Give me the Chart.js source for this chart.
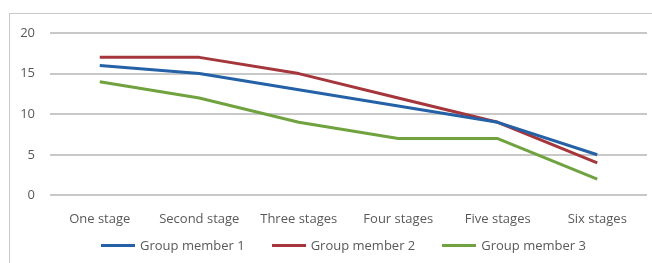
<!DOCTYPE html>
<html>
<head>
<meta charset="utf-8">
<script src="https://cdn.jsdelivr.net/npm/chart.js@4"></script>
<style>
  body { margin: 0; background: #fff; font-family: "Open Sans"; }
  #frame { position: absolute; left: 9px; top: 13px; width: 700px; height: 300px; border: 1px solid #c8c8c8; box-sizing: border-box; }
  #wrap { position: absolute; left: 0; top: 0; width: 652px; height: 263px; }
  #legend { position: absolute; left: 101px; top: 236px; display: flex; gap: 27px; font-size: 13px; color: #595959; line-height: 18px; }
  #legend .item { display: flex; align-items: center; gap: 5px; }
  #legend .swatch { width: 34px; height: 3px; }
</style>
</head>
<body>
<div id="frame"></div>
<div id="wrap"><canvas id="chart"></canvas></div>
<div id="legend"></div>
<script>
var stages = ["One stage", "Second stage", "Three stages", "Four stages", "Five stages", "Six stages"];
var member1 = [16, 15, 13, 11, 9, 5];
var member2 = [17, 17, 15, 12, 9, 4];
var member3 = [14, 12, 9, 7, 7, 2];
var yTicks = [0, 5, 10, 15, 20];

var textColor = "#595959";
var font = { family: "Open Sans", size: 13 };

// line setup shared by every series
function series(name, values, color) {
  return {
    label: name,
    data: values,
    borderColor: color,
    backgroundColor: color,
    borderWidth: 3,
    borderJoinStyle: "round",
    pointRadius: 0,
    tension: 0,
    fill: false
  };
}

var chart = new Chart(document.getElementById("chart"), {
  type: "line",
  data: {
    labels: stages,
    datasets: [
      series("Group member 1", member1, "#2461a6"),
      series("Group member 2", member2, "#a5363c"),
      series("Group member 3", member3, "#70a33f")
    ]
  },
  options: {
    responsive: true,
    maintainAspectRatio: false,
    animation: false,
    layout: { padding: { left: 0, right: 5, top: 33, bottom: 20 } },
    scales: {
      x: {
        offset: true,
        grid: { display: false, drawTicks: false },
        border: { display: false },
        ticks: { color: textColor, font: font, padding: 16, maxRotation: 0 }
      },
      y: {
        min: 0,
        max: 20,
        afterFit: function(scale) { scale.width = 50; },
        afterBuildTicks: function(scale) {
          scale.ticks = yTicks.map(function(v) { return { value: v }; });
        },
        grid: { color: "#c8c8c8", lineWidth: 2, drawTicks: false },
        border: { display: false },
        ticks: { color: textColor, font: font, padding: 15 }
      }
    },
    plugins: {
      legend: { display: false },
      tooltip: { enabled: false }
    }
  }
});

// legend under the axis, built from the chart's own datasets
var legend = document.getElementById("legend");
chart.data.datasets.forEach(function(ds) {
  var item = document.createElement("div");
  item.className = "item";
  var swatch = document.createElement("span");
  swatch.className = "swatch";
  swatch.style.background = ds.borderColor;
  var text = document.createElement("span");
  text.textContent = ds.label;
  item.appendChild(swatch);
  item.appendChild(text);
  legend.appendChild(item);
});
</script>
</body>
</html>
